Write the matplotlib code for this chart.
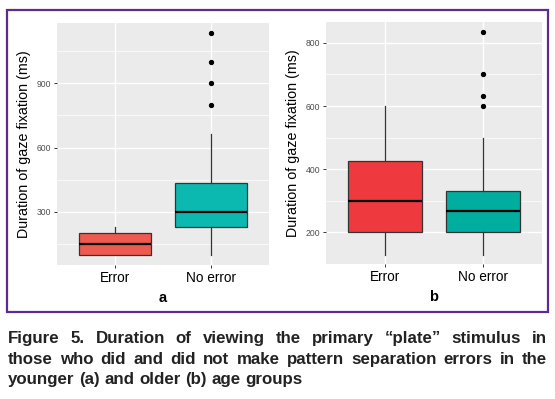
import matplotlib.pyplot as plt
from matplotlib.patches import Rectangle

plt.rcParams['font.family'] = ['Liberation Sans', 'DejaVu Sans']

# --- data ---
groups = ['Error', 'No error']

# panel a (younger)
a_q1 = [100, 230]
a_med = [150, 300]
a_q3 = [200, 433]
a_lo = [100, 100]
a_hi = [228, 665]
a_fliers = [[], [800, 900, 1000, 1133]]

# panel b (older)
b_q1 = [200, 200]
b_med = [300, 268]
b_q3 = [425, 332]
b_lo = [130, 130]
b_hi = [600, 500]
b_fliers = [[], [600, 633, 700, 833]]

caption_lines = [
    'Figure 5. Duration of viewing the primary \u201cplate\u201d stimulus in',
    'those who did and did not make pattern separation errors in the',
    'younger (a) and older (b) age groups',
]

W, H = 555, 399
fig = plt.figure(figsize=(W / 100, H / 100), dpi=100)


def panel(rect, q1, med, q3, lo, hi, fliers, colors, ylim, major, minor, letter):
    ax = fig.add_axes([rect[0] / W, 1 - rect[3] / H, (rect[2] - rect[0]) / W,
                       (rect[3] - rect[1]) / H])
    ax.set_facecolor('#EBEBEB')
    stats = []
    for i in range(len(groups)):
        stats.append(dict(q1=q1[i], med=med[i], q3=q3[i], whislo=lo[i],
                          whishi=hi[i], fliers=fliers[i], label=groups[i]))
    bp = ax.bxp(stats, positions=[1, 2], widths=0.75, patch_artist=True,
                showcaps=False,
                boxprops=dict(edgecolor='#333333', linewidth=0.9),
                medianprops=dict(color='black', linewidth=1.6),
                whiskerprops=dict(color='#333333', linewidth=0.9),
                flierprops=dict(marker='o', markersize=2.8, markerfacecolor='black',
                                markeredgecolor='black'), zorder=3)
    for b, c in zip(bp['boxes'], colors):
        b.set_facecolor(c)
    ax.set_xlim(0.4, 2.6)
    ax.set_ylim(*ylim)
    ax.set_yticks(major)
    ax.set_yticks(minor, minor=True)
    ax.grid(True, which='major', color='white', linewidth=1.0, zorder=0)
    ax.grid(True, which='minor', axis='y', color='white', linewidth=0.5, zorder=0)
    ax.set_axisbelow(True)
    for s in ax.spines.values():
        s.set_visible(False)
    ax.tick_params(axis='y', which='major', labelsize=6.2, labelcolor='#4D4D4D',
                   color='#333333', length=2.5, width=0.7, pad=1.5)
    ax.tick_params(axis='y', which='minor', length=0)
    ax.tick_params(axis='x', labelsize=9.8, labelcolor='black', color='#333333',
                   length=2.5, width=0.7, pad=2)
    ax.set_xticks([1, 2])
    ax.set_xticklabels(groups)
    ax.set_ylabel('Duration of gaze fixation (ms)', fontsize=10.3, labelpad=4)
    ax.set_xlabel(letter, fontsize=10.5, fontweight='bold', labelpad=4)
    return ax


panel((57, 23, 269, 265), a_q1, a_med, a_q3, a_lo, a_hi, a_fliers,
      ['#EE5A50', '#0BB9B0'], (51, 1182), [300, 600, 900], [150, 450, 750, 1050], 'a')
panel((326, 22, 542, 264), b_q1, b_med, b_q3, b_lo, b_hi, b_fliers,
      ['#EE3A3E', '#00AE9F'], (100, 866), [200, 400, 600, 800], [300, 500, 700], 'b')

# purple frame
fig.patches.append(Rectangle((7 / W, 1 - 312 / H), 541 / W, 302 / H,
                             transform=fig.transFigure, fill=False,
                             edgecolor='#5B2D8E', linewidth=1.6))

# justified caption, line breaks as in the reference
fig.canvas.draw()
renderer = fig.canvas.get_renderer()
left, right = 8, 547


def text_w(s, fs):
    t = fig.text(0, 0, s, fontsize=fs, fontweight='bold')
    w = t.get_window_extent(renderer).width
    t.remove()
    return w


# size the font so the last (unjustified) line is as wide as in the reference
fs = 10.0 * 295 / text_w(caption_lines[-1], 10.0)
space = text_w('a a', fs) - text_w('aa', fs)

ys = [343, 364, 384]
for li, (line, y) in enumerate(zip(caption_lines, ys)):
    words = line.split()
    widths = [text_w(w, fs) for w in words]
    if li < len(caption_lines) - 1:
        gap = (right - left - sum(widths)) / (len(words) - 1)
    else:
        gap = space
    x = left
    for w, ww in zip(words, widths):
        fig.text(x / W, 1 - y / H, w, fontsize=fs, fontweight='bold',
                 color='#222222', va='baseline', ha='left')
        x += ww + gap

fig.savefig('out.png', dpi=100, facecolor='white')
